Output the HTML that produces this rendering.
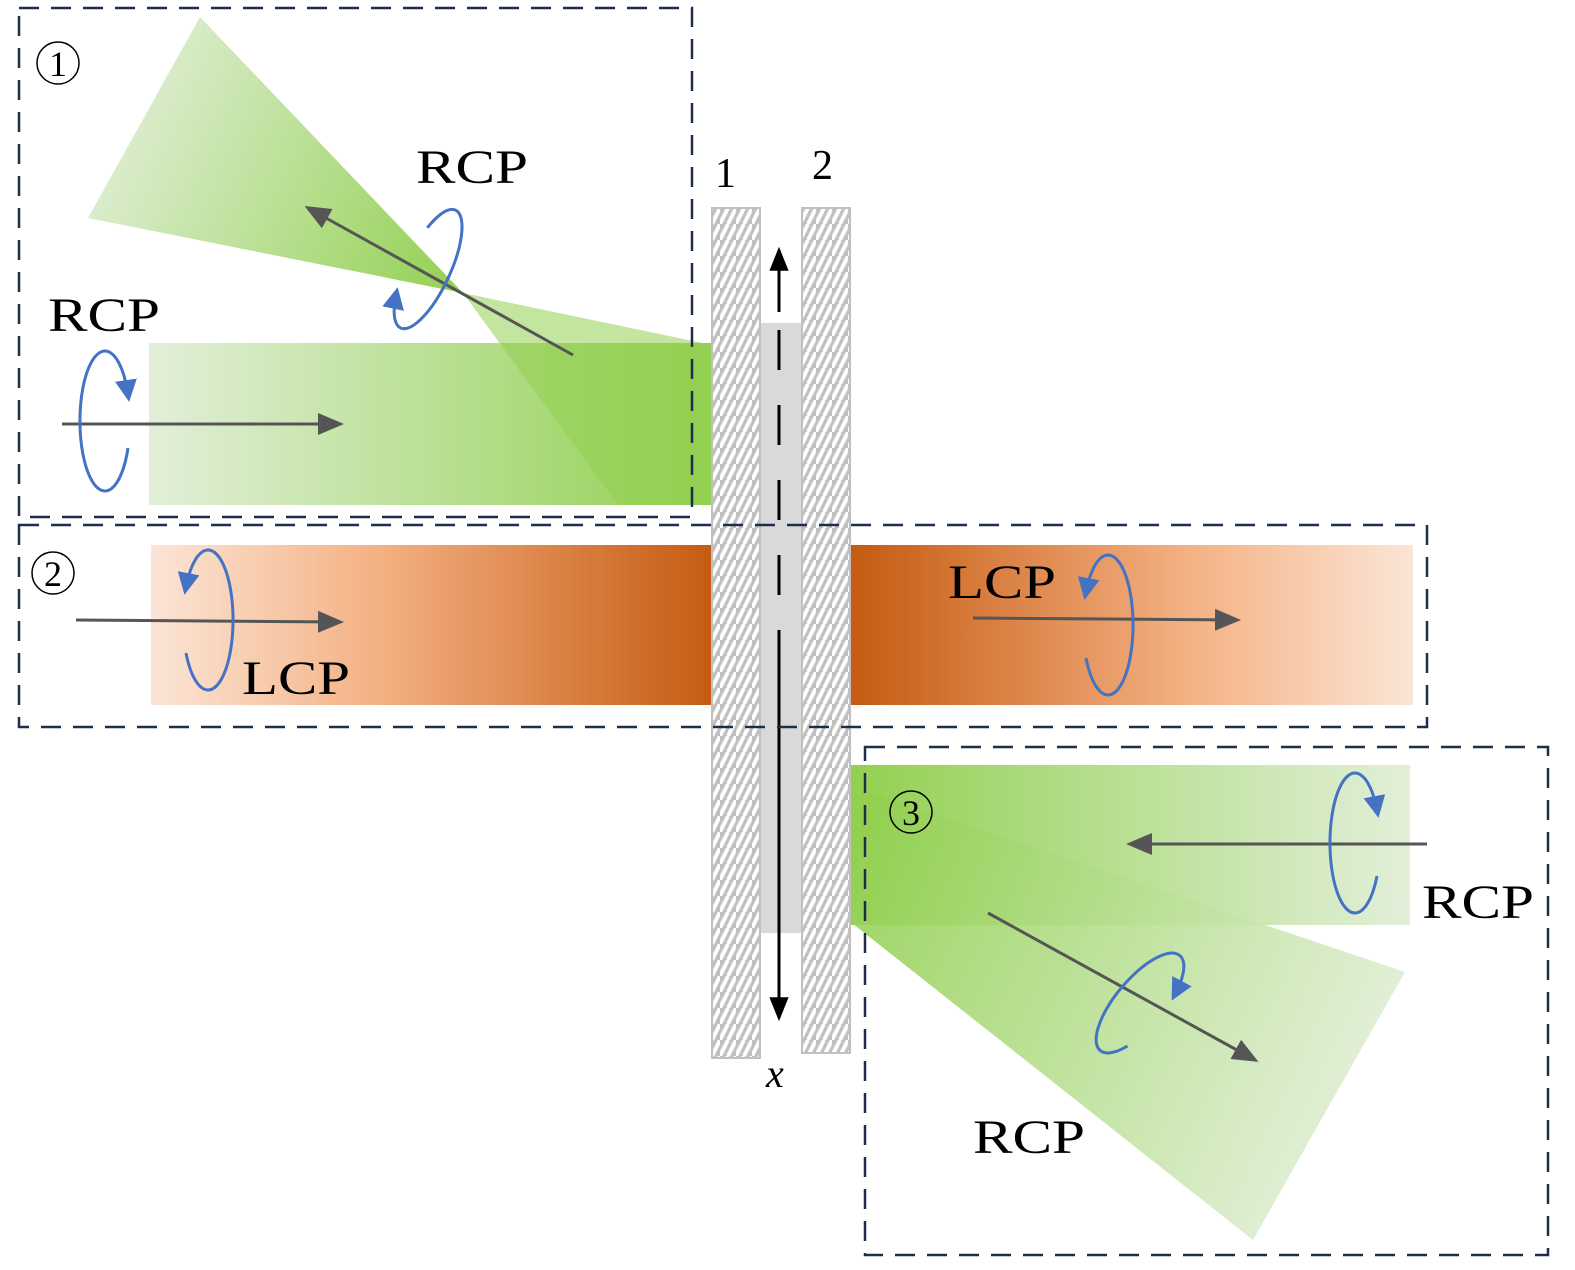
<!DOCTYPE html>
<html><head><meta charset="utf-8"><style>
html,body{margin:0;padding:0;background:#fff;overflow:hidden}
svg{display:block}
text{font-family:"Liberation Serif",serif;fill:#000}
</style></head><body>
<svg width="1575" height="1270" viewBox="0 0 1575 1270" xmlns="http://www.w3.org/2000/svg">
<defs>
<linearGradient id="g1" x1="0" x2="1" y1="0" y2="0"><stop offset="0" stop-color="#e2efd9"/><stop offset="1" stop-color="#92d050"/></linearGradient>
<linearGradient id="g1c" x1="88" y1="120" x2="470" y2="290" gradientUnits="userSpaceOnUse"><stop offset="0" stop-color="#e2efd9"/><stop offset="1" stop-color="#92d050"/></linearGradient>
<linearGradient id="g3" x1="0" x2="1" y1="0" y2="0"><stop offset="0" stop-color="#92d050"/><stop offset="1" stop-color="#e2efd9"/></linearGradient>
<linearGradient id="g3c" x1="850" y1="850" x2="1380" y2="1100" gradientUnits="userSpaceOnUse"><stop offset="0" stop-color="#92d050"/><stop offset="1" stop-color="#e2efd9"/></linearGradient>
<linearGradient id="oL" x1="0" x2="1"><stop offset="0" stop-color="#fbe5d6"/><stop offset="0.4" stop-color="#f4b183"/><stop offset="1" stop-color="#c55a11"/></linearGradient>
<linearGradient id="oR" x1="0" x2="1"><stop offset="0" stop-color="#c55a11"/><stop offset="0.6" stop-color="#f4b183"/><stop offset="1" stop-color="#fbe5d6"/></linearGradient>
<pattern id="hatch" width="16" height="16" patternUnits="userSpaceOnUse">
<rect width="16" height="16" fill="#c0c0c0"/>
<path d="M0 16 L8 0 M8 16 L16 0" stroke="#fff" stroke-width="4"/>
</pattern>
<marker id="ag" markerWidth="26" markerHeight="22" refX="22" refY="11" orient="auto" markerUnits="userSpaceOnUse" viewBox="0 0 26 22"><path d="M0 0 L26 11 L0 22 z" fill="#555"/></marker>
<marker id="ab" markerWidth="24" markerHeight="30" refX="26" refY="12" orient="auto" markerUnits="userSpaceOnUse" viewBox="0 0 30 24"><path d="M0 0 L30 12 L0 24 z" fill="#000"/></marker>
<marker id="bl" markerWidth="22" markerHeight="22" refX="14" refY="11" orient="auto" markerUnits="userSpaceOnUse" viewBox="0 0 22 22"><path d="M0 0 L22 11 L0 22 z" fill="#4472c4"/></marker>
</defs>

<rect x="149" y="343" width="563" height="162" fill="url(#g1)"/>
<polygon points="200,17 88,218 463,293" fill="url(#g1c)"/>
<polygon points="463,293 712,345 712,505 618,505" fill="#92d050" opacity="0.55"/>

<rect x="848" y="765" width="562" height="160" fill="url(#g3)"/>
<polygon points="848,785 1405,972 1253,1240 848,920" fill="url(#g3c)" opacity="0.9"/>

<rect x="151" y="545" width="565" height="160" fill="url(#oL)"/>
<rect x="850" y="545" width="563" height="160" fill="url(#oR)"/>

<rect x="760" y="323" width="42" height="610" fill="#d9d9d9"/>
<rect x="712" y="208" width="48" height="850" fill="url(#hatch)" stroke="#c0c0c0" stroke-width="2"/>
<rect x="802" y="208" width="48" height="845" fill="url(#hatch)" stroke="#c0c0c0" stroke-width="2"/>
<line x1="779" y1="312" x2="779" y2="250" stroke="#000" stroke-width="3" marker-end="url(#ab)"/>
<line x1="779" y1="330" x2="779" y2="640" stroke="#000" stroke-width="3" stroke-dasharray="40,35"/>
<line x1="779" y1="640" x2="779" y2="1018" stroke="#000" stroke-width="3" marker-end="url(#ab)"/>

<g fill="none" stroke="#1f2d4a" stroke-width="2.5" stroke-dasharray="20,12">
<rect x="19" y="8" width="673" height="509"/>
<rect x="19" y="525" width="1408" height="202"/>
<rect x="865" y="747" width="683" height="508"/>
</g>

<g stroke="#555" stroke-width="3" marker-end="url(#ag)">
<line x1="62" y1="424" x2="340" y2="424"/>
<line x1="573" y1="355" x2="308" y2="208"/>
<line x1="76" y1="620" x2="340" y2="622"/>
<line x1="973" y1="618" x2="1237" y2="620"/>
<line x1="1427" y1="844" x2="1130" y2="844"/>
<line x1="988" y1="913" x2="1255" y2="1060"/>
</g>

<g fill="none" stroke="#4472c4" stroke-width="3" marker-end="url(#bl)">
<path d="M128 448 A25 70 0 1 1 128 394"/>
<g transform="translate(428,269) rotate(25)"><path d="M-18 -37 A22 65 0 1 1 -18 37"/></g>
<path d="M186 653 A25 70 0 1 0 186 587"/>
<path d="M1086 658 A25 70 0 1 0 1086 592"/>
<path d="M1377 876 A25 70 0 1 1 1377 810"/>
<g transform="translate(1140,1003) rotate(40)"><path d="M18 41 A24 62 0 1 1 21 -30"/></g>
</g>

<g fill="none" stroke="#000" stroke-width="1.5">
<ellipse cx="58" cy="63" rx="21" ry="21"/>
<ellipse cx="53" cy="573" rx="21" ry="21"/>
<ellipse cx="911" cy="812" rx="21" ry="21"/>
</g>
<text x="58" y="76" font-size="36" text-anchor="middle">1</text>
<text x="53" y="586" font-size="36" text-anchor="middle">2</text>
<text x="911" y="825" font-size="36" text-anchor="middle">3</text>

<g font-size="48">
<text x="416" y="183" textLength="112" lengthAdjust="spacingAndGlyphs">RCP</text>
<text x="48" y="331" textLength="112" lengthAdjust="spacingAndGlyphs">RCP</text>
<text x="242" y="694" textLength="108" lengthAdjust="spacingAndGlyphs">LCP</text>
<text x="948" y="598" textLength="108" lengthAdjust="spacingAndGlyphs">LCP</text>
<text x="1422" y="918" textLength="112" lengthAdjust="spacingAndGlyphs">RCP</text>
<text x="973" y="1153" textLength="112" lengthAdjust="spacingAndGlyphs">RCP</text>
<text x="715" y="187" font-size="42">1</text>
<text x="812" y="179" font-size="42">2</text>
<text x="766" y="1087" font-size="40" font-style="italic">x</text>
</g>
</svg>
</body></html>
